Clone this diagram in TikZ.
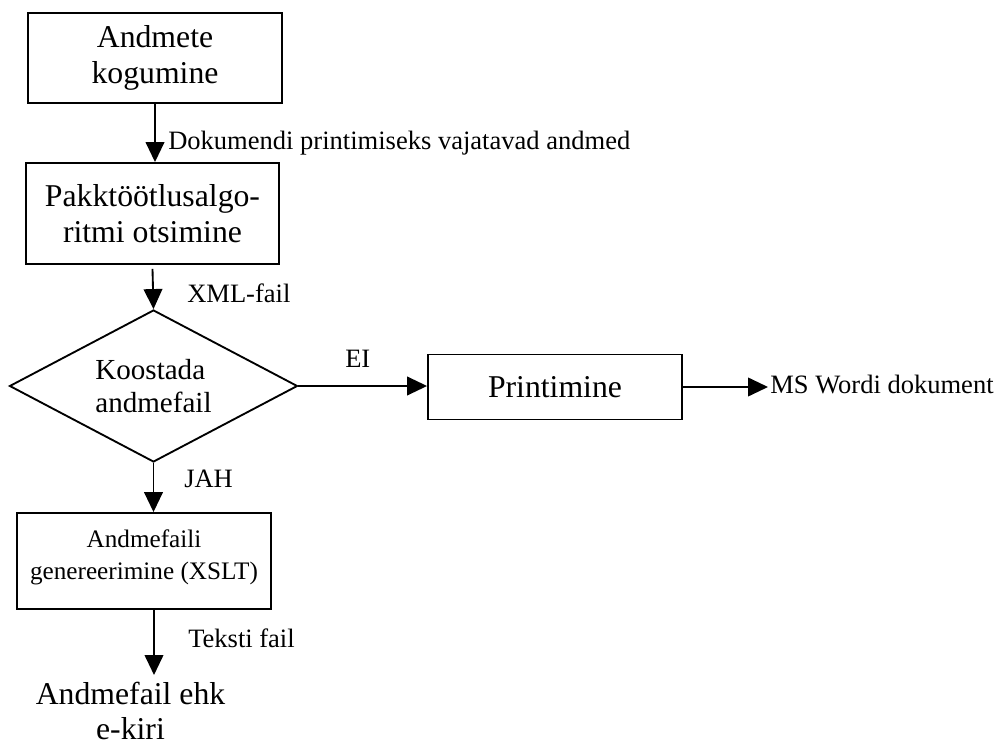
\documentclass[tikz,border=0pt]{standalone}
\usepackage{fontspec}
\setmainfont{Liberation Serif}
\usetikzlibrary{shapes.geometric,arrows.meta}
\begin{document}
\begin{tikzpicture}[x=0.75pt,y=-0.75pt,
  box/.style={draw,line width=1.4pt,inner sep=0pt,align=center},
  arr/.style={line width=1.4pt,-{Triangle[length=15pt,width=14pt]}},
  lbl/.style={anchor=base west,inner sep=0pt,font=\fontsize{19.9pt}{22pt}\selectfont},
  big/.style={font=\fontsize{23.8pt}{26.5pt}\selectfont},
  mid/.style={font=\fontsize{21.8pt}{24.75pt}\selectfont},
  small/.style={font=\fontsize{18.9pt}{24pt}\selectfont}]
\useasboundingbox (0,0) rectangle (999,745);
% boxes
\node[box,big,minimum width=190.5pt,minimum height=67.5pt] (b1) at (155,58) {Andmete\\kogumine};
\node[box,big,minimum width=189.75pt,minimum height=75.75pt] (b2) at (152.5,213.5) {Pakktöötlusalgo-\\ritmi otsimine};
\node[draw,line width=1.4pt,diamond,aspect=1.9,inner sep=0pt,minimum width=216pt,minimum height=114pt,mid,align=left] (d) at (153.5,386) {Koostada\\andmefail};
\node[box,big,minimum width=190.5pt,minimum height=48.75pt] (p) at (555,387) {Printimine};
\node[box,minimum width=190.5pt,minimum height=72pt] (g) at (144,561) {};
\node[small,align=center,inner sep=0pt] (gt) at (144,557) {Andmefaili\\genereerimine (XSLT)};
\node[big,align=center,inner sep=0pt] (e) at (130.5,711) {Andmefail ehk\\e-kiri};
% free ends
\coordinate (tip4) at (154,675);
\coordinate (ms) at (768,387);
% connectors
\draw[arr] (b1.south) -- (b1.south |- b2.north);
\draw[arr] ([yshift=-3pt]b2.south) -- (d.north);
\draw[arr] (d.south) -- (d.south |- g.north);
\draw[arr] (tip4 |- g.south) -- (tip4);
\draw[arr] (d.east) -- (d.east -| p.west);
\draw[arr] (p.east) -- (ms);
% labels
\node[lbl] (l1) at (168,150) {Dokumendi printimiseks vajatavad andmed};
\node[lbl] (l2) at (187,302) {XML-fail};
\node[lbl] (l3) at (345,367) {EI};
\node[lbl] (l4) at (184,487) {JAH};
\node[lbl] (l5) at (188,647) {Teksti fail};
\node[lbl] (l6) at (770,393) {MS Wordi dokument};
\end{tikzpicture}
\end{document}
